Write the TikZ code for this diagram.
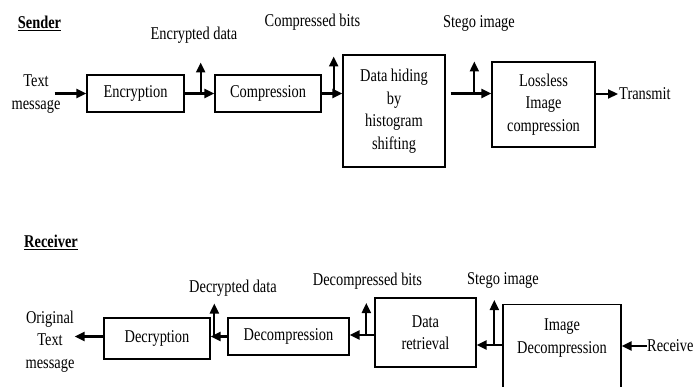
\documentclass[tikz,border=0pt]{standalone}
\usepackage{fontspec}
\setmainfont{Liberation Serif}[FakeStretch=0.8]
\usetikzlibrary{arrows.meta}
\begin{document}
\begin{tikzpicture}[x=1pt,y=-1pt,
  font=\fontsize{18}{22.5}\selectfont,
  box/.style={draw, line width=1.3pt, align=center, inner sep=0pt},
  lbl/.style={align=center, inner sep=0pt},
  arr/.style={line width=2.2pt, -{Triangle[length=10pt,width=9pt]}}]
\useasboundingbox (0,0) rectangle (693,387);
\clip (0,0) rectangle (693,387);
% ---------------- Sender ----------------
\node[lbl] (sender) at (39.5,23) {\underline{\textbf{Sender}}};
\node[lbl] (tm) at (36,94) {Text\\message};
\node[box, minimum width=97pt, minimum height=37pt] (enc) at (135.5,93.5) {Encryption};
\node[box, minimum width=106pt, minimum height=37pt] (comp) at (268,93.5) {Compression};
\node[box, minimum width=102pt, minimum height=112pt] (hide) at (394,111) {Data hiding\\by\\histogram\\shifting};
\node[box, minimum width=103pt, minimum height=85pt] (loss) at (543.5,104.5) {Lossless\\Image\\compression};
\node[lbl, anchor=west] (tx) at (619,94) {Transmit};
\node[lbl] (encd) at (194,35) {Encrypted data};
\node[lbl] (compb) at (312.5,22) {Compressed bits};
\node[lbl] (stego1) at (479,23) {Stego image};

\draw[arr] ([xshift=-6pt]tm.east |- enc.west) -- (enc.west);
\draw[arr] (enc.east) -- (comp.west);
\draw[arr] ([xshift=16pt]enc.east) -- ++(0,-31);
\draw[arr] (comp.east) -- (hide.west |- comp.east);
\draw[arr] ([xshift=12pt]comp.east) -- ++(0,-37);
\draw[arr] ([xshift=5pt]hide.east |- comp.east) -- (loss.west |- comp.east);
\draw[arr] ([xshift=-17pt]loss.west |- comp.east) -- ++(0,-32);
\draw[arr] (loss.east |- tx.west) -- ([xshift=-1pt]tx.west);

% ---------------- Receiver ----------------
\node[lbl] (receiver) at (51,242) {\underline{\textbf{Receiver}}};
\node[lbl] (orig) at (50,341.5) {Original\\Text\\message};
\node[box, minimum width=106pt, minimum height=41pt] (dec) at (157,338.5) {Decryption};
\node[box, minimum width=121pt, minimum height=37pt] (decomp) at (288.5,336.5) {Decompression};
\node[box, minimum width=101pt, minimum height=69pt] (ret) at (425.5,332.5) {Data\\retrieval};
\node[draw, line width=1.3pt, inner sep=0pt, minimum width=118pt, minimum height=100pt, anchor=north] (imdec) at (562,304) {};
\node[lbl] (imdect) at (562,338) {Image\\Decompression};
\node[lbl, anchor=west] (rx) at (647,346) {Receive};
\node[lbl] (decd) at (233,288) {Decrypted data};
\node[lbl] (decb) at (367.5,281) {Decompressed bits};
\node[lbl] (stego2) at (503,280) {Stego image};

\draw[arr] (rx.west) -- (imdec.east |- rx.west);
\draw[arr] (imdec.west |- 0,345) -- (ret.east |- 0,345);
\draw[arr] ([xshift=-8pt]imdec.west |- 0,345) -- ++(0,-45);
\draw[arr] (ret.west |- 0,335) -- (decomp.east |- 0,335);
\draw[arr] ([xshift=-8pt]ret.west |- 0,335) -- ++(0,-32);
\draw[arr] (decomp.west) -- (dec.east |- decomp.west);
\draw[arr] ([xshift=-13pt]decomp.west) -- ++(0,-33);
\draw[arr] (dec.west |- decomp.west) -- (orig.east |- decomp.west);
\end{tikzpicture}
\end{document}
